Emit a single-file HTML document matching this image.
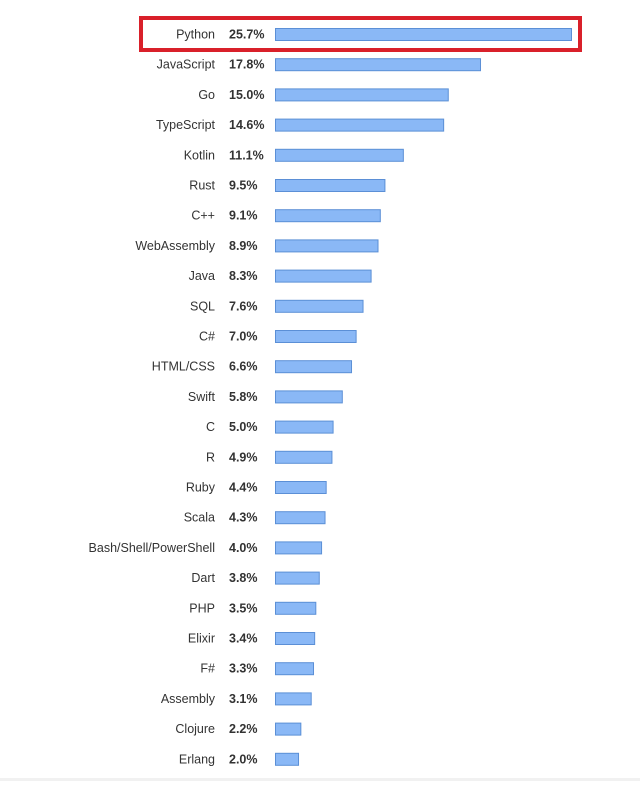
<!DOCTYPE html>
<html><head><meta charset="utf-8"><style>
body{margin:0;background:#fff;width:640px;height:781px;overflow:hidden;font-family:"Liberation Sans",sans-serif}
svg text{font-size:12.5px;fill:#333}
</style></head><body>
<svg id="chart" width="640" height="781" xmlns="http://www.w3.org/2000/svg">
<rect x="0" y="778" width="640" height="3" fill="#f1f1f1"/>
<rect x="141" y="18" width="439" height="32" fill="none" stroke="#d9202a" stroke-width="4"/>
<g id="bars"></g>
</svg>
<script>
const categories=["Python","JavaScript","Go","TypeScript","Kotlin","Rust","C++","WebAssembly","Java","SQL","C#","HTML/CSS","Swift","C","R","Ruby","Scala","Bash/Shell/PowerShell","Dart","PHP","Elixir","F#","Assembly","Clojure","Erlang"];
const values=[25.7,17.8,15.0,14.6,11.1,9.5,9.1,8.9,8.3,7.6,7.0,6.6,5.8,5.0,4.9,4.4,4.3,4.0,3.8,3.5,3.4,3.3,3.1,2.2,2.0];
const x0=275, pxPerPct=296/25.7, y0=34, step=30.2, bh=12;
const xScale=v=>v*pxPerPct;
const yScale=i=>y0+i*step;
const g=document.getElementById('bars');
const ns='http://www.w3.org/2000/svg';
categories.forEach((c,i)=>{
  const cy=yScale(i);
  const t=document.createElementNS(ns,'text');
  
  
  t.setAttribute('x',215);t.setAttribute('y',cy+4.5);t.setAttribute('text-anchor','end');
  t.textContent=c;g.appendChild(t);
  const p=document.createElementNS(ns,'text');
  
  
  p.setAttribute('x',229);p.setAttribute('y',cy+4.5);p.setAttribute('font-weight','bold');
  p.textContent=values[i].toFixed(1)+'%';g.appendChild(p);
  const r=document.createElementNS(ns,'rect');
  
  
  r.setAttribute('x',x0+0.5);r.setAttribute('y',cy-bh/2+0.5);
  r.setAttribute('width',xScale(values[i]));r.setAttribute('height',bh);
  r.setAttribute('fill','#8ab8f6');r.setAttribute('stroke','#5b8fd6');r.setAttribute('stroke-width','1');
  g.appendChild(r);
});
</script>
</body></html>
